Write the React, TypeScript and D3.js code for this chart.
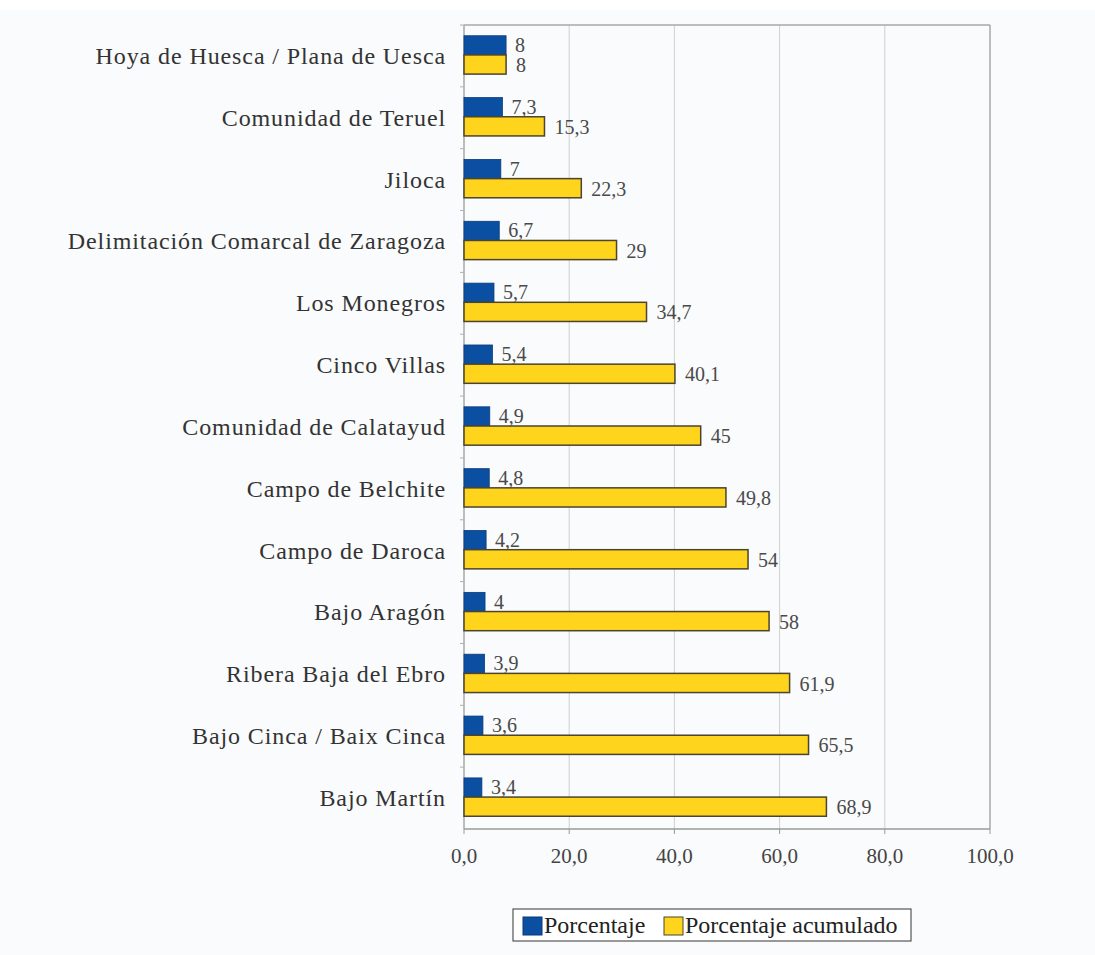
import * as d3 from "d3";

// comarcas ordered by share, with the running total
const comarcas = [
  "Hoya de Huesca / Plana de Uesca",
  "Comunidad de Teruel",
  "Jiloca",
  "Delimitación Comarcal de Zaragoza",
  "Los Monegros",
  "Cinco Villas",
  "Comunidad de Calatayud",
  "Campo de Belchite",
  "Campo de Daroca",
  "Bajo Aragón",
  "Ribera Baja del Ebro",
  "Bajo Cinca / Baix Cinca",
  "Bajo Martín",
];
const porcentaje = [8, 7.3, 7, 6.7, 5.7, 5.4, 4.9, 4.8, 4.2, 4, 3.9, 3.6, 3.4];
const acumulado = [8, 15.3, 22.3, 29, 34.7, 40.1, 45, 49.8, 54, 58, 61.9, 65.5, 68.9];
const xTicks = [0, 20, 40, 60, 80, 100];

const W = 1095;
const H = 955;
const m = { top: 25, right: 105, bottom: 126, left: 464 };

const BLUE = "#0b4fa3";
const YELLOW = "#ffd41c";
const FONT = "Liberation Serif, Times New Roman, Times, serif";

const fmt = (v: number) => String(v).replace(".", ",");

export default function App() {
  const x = d3.scaleLinear([0, 100], [m.left, W - m.right]);
  const y = d3
    .scaleBand<string>()
    .domain(comarcas)
    .range([m.top, H - m.bottom]);
  const bw = y.bandwidth();
  const barH = bw * 0.31;
  const bottomY = H - m.bottom;

  return (
    <svg
      width={W}
      height={H}
      style={{ position: "absolute", left: 0, top: 0, fontFamily: FONT }}
    >
      <rect width={W} height={H} fill="#fafbfc" />
      <rect width={W} height={10} fill="#ffffff" />

      {/* grid */}
      {xTicks.slice(1, -1).map((t) => (
        <line key={t} x1={x(t)} x2={x(t)} y1={m.top} y2={bottomY} stroke="#cfcfcf" />
      ))}
      {/* frame */}
      <line x1={m.left} x2={W - m.right} y1={m.top} y2={m.top} stroke="#a8a8a8" strokeWidth={1.5} />
      <line x1={W - m.right} x2={W - m.right} y1={m.top} y2={bottomY} stroke="#a8a8a8" strokeWidth={1.5} />
      <line x1={m.left} x2={m.left} y1={m.top} y2={bottomY} stroke="#a8a8a8" strokeWidth={1.5} />
      <line x1={m.left} x2={W - m.right} y1={bottomY} y2={bottomY} stroke="#9a9a9a" strokeWidth={1.5} />

      {/* category ticks */}
      {comarcas.map((c) => (
        <line key={c} x1={m.left - 4} x2={m.left} y1={y(c)!} y2={y(c)!} stroke="#b0b0b0" />
      ))}
      {/* x ticks + labels */}
      {xTicks.map((t) => (
        <g key={t}>
          <line x1={x(t)} x2={x(t)} y1={bottomY} y2={bottomY + 5} stroke="#9a9a9a" />
          <text x={x(t)} y={bottomY + 34} textAnchor="middle" fontSize={21} fill="#444">
            {t.toFixed(1).replace(".", ",")}
          </text>
        </g>
      ))}

      {comarcas.map((c, i) => {
        const cy = y(c)! + bw / 2;
        return (
          <g key={c}>
            <text
              x={m.left - 18}
              y={cy}
              dy="0.33em"
              textAnchor="end"
              fontSize={24}
              letterSpacing={0.9}
              fill="#333"
            >
              {c}
            </text>
            <rect
              x={x(0)}
              y={cy - barH - 1}
              width={x(porcentaje[i]) - x(0)}
              height={barH}
              fill={BLUE}
              stroke="#0a3a7a"
              strokeWidth={0.8}
            />
            <rect
              x={x(0)}
              y={cy - 1}
              width={x(acumulado[i]) - x(0)}
              height={barH}
              fill={YELLOW}
              stroke="#4a4430"
              strokeWidth={1.5}
            />
            <text x={x(porcentaje[i]) + 9} y={cy - barH / 2 - 1} dy="0.33em" fontSize={20} fill="#4a4a4a">
              {fmt(porcentaje[i])}
            </text>
            <text x={x(acumulado[i]) + 10} y={cy + barH / 2} dy="0.33em" fontSize={20} fill="#4a4a4a">
              {fmt(acumulado[i])}
            </text>
          </g>
        );
      })}

      {/* legend */}
      <g transform="translate(513,909)">
        <rect width={398} height={32} fill="#ffffff" stroke="#555" strokeWidth={1.2} />
        <rect x={10} y={8} width={19} height={18} fill={BLUE} stroke="#0a3a7a" />
        <text x={31} y={24} fontSize={24} fill="#222">Porcentaje</text>
        <rect x={151} y={8} width={19} height={18} fill={YELLOW} stroke="#4a4430" />
        <text x={172} y={24} fontSize={24} fill="#222">Porcentaje acumulado</text>
      </g>
    </svg>
  );
}
